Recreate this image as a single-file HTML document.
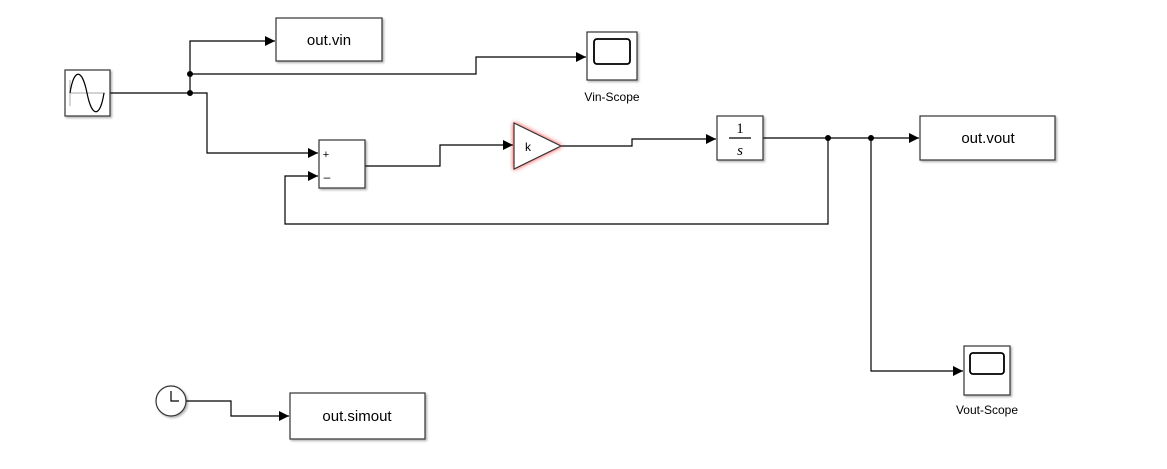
<!DOCTYPE html>
<html><head><style>body{margin:0;background:#fff}svg{display:block}</style></head><body>
<svg width="1167" height="469" viewBox="0 0 1167 469" xmlns="http://www.w3.org/2000/svg" font-family="Liberation Sans, sans-serif">
<defs>
<marker id="a" markerWidth="10" markerHeight="10" refX="10" refY="5" orient="auto" markerUnits="userSpaceOnUse"><path d="M0,0 L10,5 L0,10z" fill="#000"/></marker>
<filter id="sh"><feDropShadow dx="1.5" dy="1.5" stdDeviation="1" flood-color="#000" flood-opacity="0.3"/></filter>
<filter id="glow"><feDropShadow dx="0" dy="0" stdDeviation="2.5" flood-color="#e00" flood-opacity="0.8"/></filter>
</defs>
<g fill="none" stroke="#000" stroke-width="1.2">
<path d="M110,93 H190"/>
<path d="M190,93 V41 H275" marker-end="url(#a)"/>
<path d="M190,74 H476 V57 H586" marker-end="url(#a)"/>
<path d="M190,93 H207 V153 H318" marker-end="url(#a)"/>
<path d="M365,166 H440 V145 H513" marker-end="url(#a)"/>
<path d="M561,146 H632 V139 H716" marker-end="url(#a)"/>
<path d="M763,138 H919" marker-end="url(#a)"/>
<path d="M828,138 V224 H285 V176 H318" marker-end="url(#a)"/>
<path d="M871,138 V371 H963" marker-end="url(#a)"/>
<path d="M186,401 H231 V416 H289" marker-end="url(#a)"/>
</g>
<g fill="#000"><circle cx="190" cy="74" r="3"/><circle cx="190" cy="93" r="3"/><circle cx="828" cy="138" r="3"/><circle cx="871" cy="138" r="3"/></g>
<g fill="#fff" stroke="#333" stroke-width="1.2" filter="url(#sh)">
<rect x="65" y="70" width="45" height="46"/>
<rect x="276" y="18" width="106" height="43"/>
<rect x="587" y="32" width="50" height="48"/>
<rect x="319" y="140" width="46" height="48"/>
<rect x="717" y="116" width="46" height="44"/>
<rect x="920" y="116" width="135" height="44"/>
<rect x="964" y="346" width="46" height="49"/>
<rect x="290" y="393" width="135" height="46"/>
<circle cx="171" cy="401" r="15"/>
</g>
<path d="M514,123 L561,146 L514,169 Z" fill="#fff" stroke="#333" stroke-width="1.2" filter="url(#glow)"/>
<g fill="none" stroke="#000" stroke-width="1.2">
<path d="M70,93 H105" stroke="#bbb"/>
<path d="M70,106 V80" stroke="#bbb"/>
<path d="M70,93 C74,68 82,68 87,93 C92,118 100,118 104,93" stroke="#000"/>
<rect x="594" y="39" width="36" height="25" rx="3" stroke-width="1.8"/>
<rect x="970" y="353" width="34" height="21" rx="3" stroke-width="1.8"/>
<path d="M171,391 V401 H179"/>
<path d="M729,138 H751"/>
</g>
<g font-size="15" text-anchor="middle" fill="#000">
<text x="329" y="45">out.vin</text>
<text x="988" y="143">out.vout</text>
<text x="357" y="421">out.simout</text>
</g>
<g font-size="12" text-anchor="middle" fill="#000">
<text x="612" y="101">Vin-Scope</text>
<text x="987" y="414">Vout-Scope</text>
<text x="528" y="151">k</text>
<text x="326" y="158" font-size="11">+</text>
<text x="327" y="181" font-size="12">–</text>
</g>
<g font-family="Liberation Serif, serif" font-size="15" text-anchor="middle">
<text x="740" y="133">1</text>
<text x="740" y="155" font-style="italic">s</text>
</g>
</svg>
</body></html>
